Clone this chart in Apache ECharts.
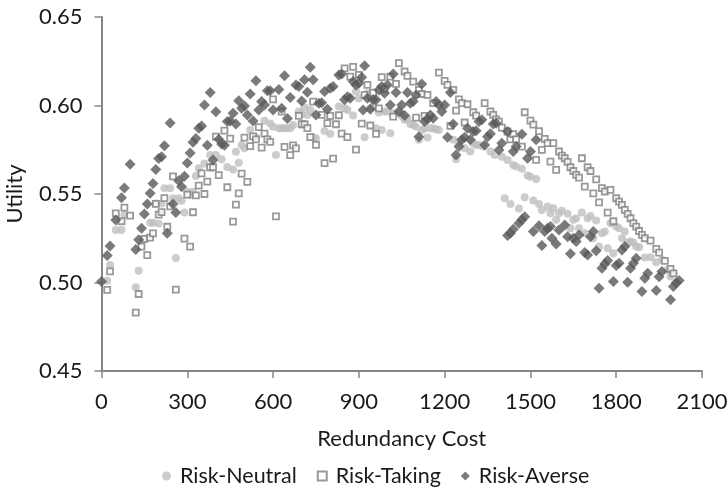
<!DOCTYPE html>
<html><head><meta charset="utf-8">
<style>html,body{margin:0;padding:0;background:#fff}#c{width:727px;height:489px}</style>
<script src="https://cdn.jsdelivr.net/npm/echarts@6/dist/echarts.min.js"></script>
</head><body><div id="c"></div>
<script>
var seriesNames = ['Risk-Neutral','Risk-Taking','Risk-Averse'];
var xTicks = [0,300,600,900,1200,1500,1800,2100];
var neutral = [[20,.5010],[30,.5099],[50,.5297],[70,.5297],[80,.5381],[120,.4973],[130,.5067],[150,.5246],[170,.5338],[180,.5338],[190,.5447],[200,.5334],[210,.5447],[220,.5532],[240,.5532],[250,.5476],[260,.5139],[270,.5476],[280,.5462],[290,.5395],[300,.5513],[310,.5494],[320,.5513],[330,.5602],[340,.5645],[360,.5673],[380,.5720],[400,.5720],[420,.5696],[440,.5653],[460,.5639],[470,.5739],[480,.5677],[490,.5777],[500,.5758],[520,.5862],[540,.5820],[570,.5914],[590,.5899],[600,.5880],[610,.5720],[620,.5871],[630,.5871],[640,.5871],[650,.5871],[660,.5871],[670,.5890],[690,.5966],[700,.5950],[710,.5990],[720,.5947],[730,.5975],[740,.5821],[750,.5815],[780,.5856],[800,.5840],[830,.5994],[850,.5984],[860,.5975],[880,.5943],[890,.6079],[900,.6040],[920,.5821],[930,.6069],[940,.5985],[950,.5994],[960,.5871],[970,.5960],[980,.5862],[990,.5966],[1000,.5966],[1010,.5843],[1020,.5956],[1040,.5956],[1050,.5940],[1060,.5919],[1070,.5925],[1080,.5896],[1090,.5890],[1100,.5880],[1110,.5806],[1120,.5860],[1130,.5870],[1140,.5819],[1150,.5871],[1160,.5870],[1170,.5866],[1180,.5862],[1230,.5806],[1240,.5696],[1250,.5796],[1270,.5759],[1290,.5740],[1300,.5787],[1310,.5777],[1320,.5777],[1335,.5768],[1360,.5740],[1375,.5721],[1400,.5711],[1420,.5692],[1440,.5664],[1450,.5655],[1470,.5642],[1490,.5604],[1500,.5598],[1520,.5585],[1410,.5476],[1430,.5444],[1460,.5418],[1480,.5482],[1510,.5463],[1530,.5444],[1540,.5410],[1560,.5429],[1570,.5391],[1580,.5420],[1590,.5354],[1600,.5391],[1610,.5406],[1630,.5388],[1640,.5307],[1650,.5354],[1660,.5363],[1670,.5307],[1680,.5395],[1690,.5278],[1700,.5363],[1710,.5376],[1720,.5250],[1730,.5350],[1740,.5203],[1750,.5278],[1760,.5288],[1770,.5194],[1780,.5335],[1790,.5165],[1800,.5316],[1810,.5307],[1820,.5250],[1830,.5288],[1840,.5226],[1850,.5231],[1860,.5226],[1870,.5203],[1880,.5199],[1900,.5141],[1920,.5143],[1940,.5115],[1960,.5128],[1980,.5071],[1990,.5034],[2000,.5052]];
var taking = [[20,.4958],[30,.5063],[50,.5391],[70,.5346],[80,.5423],[100,.5378],[120,.4830],[130,.4935],[140,.5203],[150,.5246],[160,.5155],[170,.5253],[180,.5278],[190,.5444],[200,.5383],[210,.5398],[220,.5477],[230,.5315],[240,.5430],[250,.5600],[260,.4960],[290,.5248],[300,.5496],[310,.5203],[320,.5397],[330,.5492],[340,.5547],[350,.5617],[360,.5500],[370,.5570],[380,.5651],[390,.5651],[400,.5824],[410,.5607],[430,.5858],[440,.5538],[450,.5813],[460,.5344],[470,.5440],[480,.5504],[490,.5615],[500,.5818],[510,.5568],[520,.5771],[530,.5826],[540,.5809],[550,.5878],[560,.5762],[570,.5841],[580,.5809],[590,.5794],[600,.6035],[610,.5374],[630,.5965],[640,.5766],[660,.5720],[670,.5775],[680,.5758],[690,.5941],[700,.5894],[710,.5894],[720,.5872],[730,.5821],[740,.6022],[750,.5777],[770,.5947],[780,.5674],[790,.5900],[800,.5941],[810,.5700],[820,.5894],[830,.5945],[840,.5841],[850,.6210],[860,.5821],[870,.6163],[880,.6218],[890,.5751],[900,.6173],[910,.5898],[920,.6060],[930,.6116],[940,.5887],[950,.6073],[960,.5840],[970,.5984],[980,.6160],[990,.6094],[1010,.6163],[1020,.5937],[1030,.6122],[1040,.6239],[1060,.6192],[1070,.6167],[1090,.6135],[1100,.5932],[1110,.6088],[1120,.6065],[1130,.5941],[1140,.6060],[1160,.6013],[1180,.6186],[1200,.6139],[1210,.6116],[1220,.5885],[1230,.6088],[1240,.5971],[1250,.6035],[1260,.6013],[1270,.5904],[1280,.6007],[1300,.5962],[1310,.5943],[1340,.6013],[1360,.5966],[1370,.5947],[1380,.5922],[1390,.5909],[1400,.5875],[1420,.5853],[1430,.5809],[1440,.5838],[1450,.5809],[1470,.5768],[1480,.5962],[1500,.5915],[1510,.5892],[1520,.5693],[1530,.5855],[1540,.5749],[1550,.5811],[1560,.5787],[1570,.5683],[1580,.5787],[1590,.5636],[1600,.5740],[1610,.5717],[1620,.5702],[1630,.5681],[1640,.5651],[1650,.5630],[1660,.5608],[1670,.5593],[1680,.5702],[1690,.5542],[1700,.5651],[1710,.5630],[1720,.5504],[1730,.5583],[1740,.5453],[1750,.5533],[1760,.5514],[1770,.5395],[1780,.5523],[1790,.5346],[1800,.5476],[1810,.5457],[1820,.5438],[1830,.5410],[1840,.5388],[1850,.5363],[1860,.5335],[1870,.5316],[1880,.5291],[1890,.5269],[1900,.5250],[1920,.5237],[1940,.5190],[1950,.5169],[1970,.5122],[1990,.5077],[2000,.5052]];
var averse = [[0,.5005],[20,.5152],[30,.5206],[50,.5353],[70,.5479],[80,.5534],[100,.5668],[120,.5187],[130,.5242],[140,.5306],[150,.5387],[160,.5444],[170,.5504],[180,.5560],[190,.5639],[200,.5700],[210,.5711],[220,.5773],[230,.5278],[240,.5901],[250,.5444],[260,.5395],[270,.5575],[280,.5541],[290,.5600],[300,.5675],[310,.5732],[320,.5792],[330,.5813],[340,.5871],[350,.5884],[360,.6003],[370,.5775],[380,.6074],[390,.5692],[400,.5965],[410,.5809],[420,.5783],[430,.5775],[440,.5909],[450,.5912],[460,.5956],[470,.5895],[480,.6027],[490,.5984],[500,.5997],[510,.5946],[520,.6065],[530,.5912],[540,.6140],[550,.5975],[560,.6022],[570,.6003],[580,.6084],[590,.6084],[600,.5975],[620,.6091],[630,.5984],[640,.6168],[650,.5927],[660,.6045],[680,.6116],[690,.6107],[700,.6026],[710,.6145],[720,.6075],[730,.6216],[740,.6145],[750,.5947],[760,.6013],[770,.6016],[780,.6079],[790,.5979],[800,.6097],[810,.6107],[830,.6173],[840,.6178],[850,.6032],[860,.6050],[870,.6041],[880,.6135],[890,.6116],[900,.6126],[910,.6160],[915,.5975],[920,.6225],[930,.6041],[940,.5979],[950,.6032],[960,.6032],[970,.6088],[980,.6107],[990,.6069],[1000,.6116],[1010,.6003],[1020,.6178],[1030,.6073],[1040,.5966],[1050,.6003],[1060,.5943],[1070,.6073],[1080,.6013],[1090,.6022],[1100,.6060],[1110,.5824],[1120,.6122],[1130,.5909],[1140,.5922],[1150,.5947],[1160,.5928],[1170,.6022],[1180,.6003],[1190,.5966],[1200,.6003],[1210,.5821],[1220,.6073],[1230,.5896],[1240,.5721],[1250,.5768],[1260,.5806],[1270,.5821],[1280,.5871],[1290,.5806],[1300,.5853],[1310,.5858],[1320,.5909],[1330,.5919],[1340,.5777],[1350,.5824],[1360,.5840],[1370,.5896],[1380,.5900],[1390,.5749],[1400,.5787],[1420,.5853],[1440,.5740],[1450,.5768],[1470,.5838],[1490,.5702],[1500,.5740],[1520,.5806],[1420,.5265],[1430,.5278],[1440,.5301],[1460,.5335],[1470,.5354],[1480,.5372],[1510,.5288],[1530,.5320],[1540,.5209],[1550,.5288],[1560,.5307],[1570,.5316],[1575,.5250],[1590,.5218],[1600,.5297],[1620,.5325],[1630,.5259],[1640,.5162],[1650,.5250],[1660,.5231],[1670,.5269],[1690,.5169],[1700,.5156],[1710,.5259],[1720,.5288],[1730,.5180],[1740,.4968],[1750,.5081],[1760,.5105],[1770,.5124],[1790,.5005],[1800,.5096],[1810,.5109],[1820,.5184],[1830,.5203],[1840,.5001],[1850,.5081],[1860,.5109],[1870,.5137],[1890,.4949],[1900,.5024],[1910,.5052],[1940,.4955],[1950,.5033],[1960,.5062],[1990,.4902],[2000,.4977],[2010,.4999],[2020,.5011]];

var FONT = 'Lato';
var INK = '#1a1a1a';
var axisLine = {lineStyle:{color:'#868686',width:2}};
var tick = {show:true,length:7,lineStyle:{color:'#868686',width:1.5}};
var chart = echarts.init(document.getElementById('c'),null,{renderer:'canvas'});
chart.setOption({
  animation:false,
  backgroundColor:'#fff',
  textStyle:{fontFamily:FONT,color:INK},
  grid:{left:101.5,right:25,top:17,bottom:118,containLabel:false,outerBoundsMode:'none'},
  legend:{
    data:[
      {name:seriesNames[0],icon:'circle',itemStyle:{color:'#bfbfbf'}},
      {name:seriesNames[1],icon:'rect',itemStyle:{color:'#fff',borderColor:'#7f7f7f',borderWidth:2}},
      {name:seriesNames[2],icon:'diamond',itemStyle:{color:'#595959'}}
    ],
    left:157,top:460,itemWidth:9,itemHeight:9,itemGap:20,
    textStyle:{fontFamily:FONT,fontSize:21.5,color:INK,padding:[0,0,0,4]}
  },
  xAxis:{
    type:'value',min:0,max:2100,interval:300,
    name:'Redundancy Cost',nameLocation:'middle',nameGap:57,
    nameTextStyle:{fontFamily:FONT,fontSize:22,color:INK},
    axisLine:Object.assign({onZero:false},axisLine),axisTick:tick,splitLine:{show:false},
    axisLabel:{fontFamily:FONT,fontSize:22,color:INK,margin:20,
      formatter:function(v){return xTicks.indexOf(v)>=0?String(v):'';}}
  },
  yAxis:{
    type:'value',min:0.45,max:0.65,interval:0.05,
    name:'Utility',nameLocation:'middle',nameGap:76,
    nameTextStyle:{fontFamily:FONT,fontSize:22,color:INK},
    axisLine:Object.assign({onZero:false},axisLine),axisTick:tick,splitLine:{show:false},
    axisLabel:{fontFamily:FONT,fontSize:22,color:INK,margin:19,
      formatter:function(v){return v.toFixed(2);}}
  },
  series:[
    {name:seriesNames[0],type:'scatter',data:neutral,symbol:'circle',symbolSize:8,itemStyle:{color:'#bfbfbf'}},
    {name:seriesNames[1],type:'scatter',data:taking,symbol:'rect',symbolSize:6,itemStyle:{color:'#fff',borderColor:'#7f7f7f',borderWidth:1.8}},
    {name:seriesNames[2],type:'scatter',data:averse,symbol:'diamond',symbolSize:11,itemStyle:{color:'#595959'}}
  ]
});
</script></body></html>
